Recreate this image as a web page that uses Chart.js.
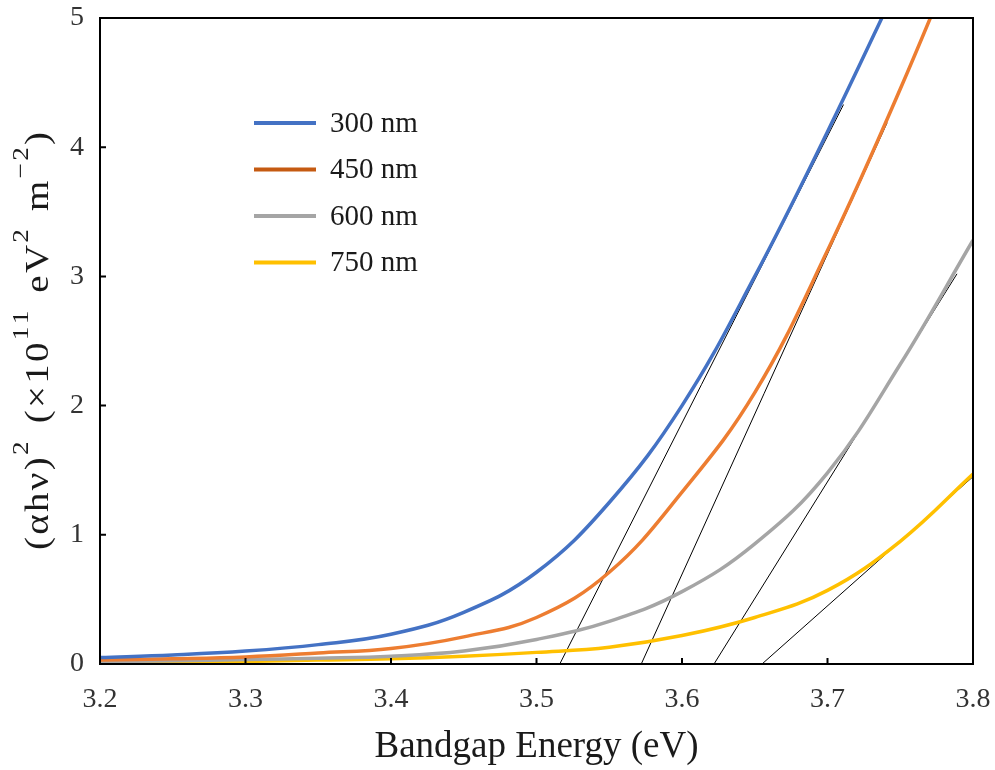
<!DOCTYPE html>
<html>
<head>
<meta charset="utf-8">
<script src="https://cdn.jsdelivr.net/npm/chart.js@4.4.1/dist/chart.umd.min.js"></script>
<style>
  html, body { margin: 0; padding: 0; background: #fff; }
  #wrap { width: 995px; height: 770px; }
</style>
</head>
<body>
<div id="wrap"><canvas id="taucChart" width="995" height="770"></canvas></div>
<script>
'use strict';

// photon energy grid (eV)
var energy = [3.20, 3.25, 3.30, 3.35, 3.40, 3.45, 3.50, 3.55, 3.60, 3.65, 3.70, 3.75, 3.80];

// (alpha h nu)^2 in units of 1e11 eV^2 m^-2
var abs300 = [0.05, 0.07, 0.10, 0.15, 0.23, 0.40, 0.71, 1.25, 2.00, 3.00, 4.12, 5.30, null];
var abs450 = [0.03, 0.04, 0.055, 0.085, 0.12, 0.21, 0.36, 0.71, 1.33, 2.10, 3.20, 4.45, 5.80];
var abs600 = [0.02, 0.025, 0.035, 0.045, 0.06, 0.10, 0.19, 0.33, 0.56, 0.93, 1.48, 2.32, 3.28];
var abs750 = [0.01, 0.015, 0.02, 0.03, 0.04, 0.06, 0.09, 0.13, 0.22, 0.36, 0.57, 0.95, 1.47];

var seriesLabels = ['300 nm', '450 nm', '600 nm', '750 nm'];
var seriesColors = ['#4472C4', '#ED7D31', '#A5A5A5', '#FFC000'];

// linear fits (Tauc extrapolation): [x0, y0, x1, y1]
var fit300 = [3.516, 0, 3.711, 4.33];
var fit450 = [3.572, 0, 3.741, 4.19];
var fit600 = [3.622, 0, 3.789, 3.02];
var fit750 = [3.655, 0, 3.800, 1.45];

var xTicks = [3.2, 3.3, 3.4, 3.5, 3.6, 3.7, 3.8];
var yTicks = [0, 1, 2, 3, 4, 5];

// y title pieces: [text, superscript?]
var yTitleParts = [['(αhν)', false], ['2', true], [' (×10', false], ['11', true],
                   [' eV', false], ['2', true], [' m', false], ['−2', true], [')', false]];

function toPoints(ys) {
    return energy.map(function (e, i) { return { x: e, y: ys[i] }; });
}

var curveSets = [abs300, abs450, abs600, abs750].map(function (ys, i) {
    return {
        label: seriesLabels[i],
        data: toPoints(ys),
        borderColor: seriesColors[i],
        backgroundColor: seriesColors[i],
        borderWidth: 3.5,
        pointRadius: 0,
        tension: 0.4,
        spanGaps: false
    };
});

var fitSets = [fit300, fit450, fit600, fit750].map(function (f) {
    return {
        label: '',
        data: [{ x: f[0], y: f[1] }, { x: f[2], y: f[3] }],
        borderColor: '#000',
        borderWidth: 1,
        pointRadius: 0,
        tension: 0
    };
});

var SERIF = '"Liberation Serif", "Times New Roman", serif';
var baseFont = '33px ' + SERIF;
var supFont = '23px ' + SERIF;

// legend inside the plot, inward ticks, box frame and y title
var framePlugin = {
    id: 'frame',
    afterDraw: function (chart) {
        var ctx = chart.ctx, a = chart.chartArea;
        var xs = chart.scales.x, ys = chart.scales.y;
        ctx.save();
        ctx.strokeStyle = '#000';
        ctx.lineWidth = 2;
        ctx.strokeRect(a.left, a.top, a.right - a.left, a.bottom - a.top);
        ctx.beginPath();
        xTicks.forEach(function (t) {
            var px = xs.getPixelForValue(t);
            ctx.moveTo(px, a.bottom);
            ctx.lineTo(px, a.bottom - 6);
        });
        yTicks.forEach(function (t) {
            var py = ys.getPixelForValue(t);
            ctx.moveTo(a.left, py);
            ctx.lineTo(a.left + 6, py);
        });
        ctx.stroke();

        // legend
        ctx.font = '29px ' + SERIF;
        ctx.textBaseline = 'middle';
        seriesLabels.forEach(function (lab, i) {
            var y = 123 + i * 46.5;
            ctx.strokeStyle = i === 1 ? '#C55A11' : seriesColors[i];
            ctx.lineWidth = 4;
            ctx.beginPath();
            ctx.moveTo(254, y);
            ctx.lineTo(316, y);
            ctx.stroke();
            ctx.fillStyle = '#1a1a1a';
            ctx.fillText(lab, 330, y + 1);
        });

        // y axis title with real superscripts: small letter gap, then stretch to length
        var chars = [];
        var natural = 0;
        var gap = 2;
        yTitleParts.forEach(function (p) {
            ctx.font = p[1] ? supFont : baseFont;
            Array.from(p[0]).forEach(function (c) {
                var w = ctx.measureText(c).width + (c === ' ' ? 3 : 0);
                chars.push({ c: c, sup: p[1], w: w });
                natural += w + gap;
            });
        });
        natural -= gap;
        var targetLen = 418;
        ctx.translate(0, 341);
        ctx.rotate(-Math.PI / 2);
        ctx.scale(targetLen / natural, 1);
        ctx.fillStyle = '#1a1a1a';
        ctx.textBaseline = 'alphabetic';
        var cx = -natural / 2;
        chars.forEach(function (ch) {
            ctx.font = ch.sup ? supFont : baseFont;
            ctx.fillText(ch.c, cx, ch.sup ? 28 : 48);
            cx += ch.w + gap;
        });
        ctx.restore();
    }
};

var TAUC = document.getElementById('taucChart');
var taucChart = new Chart(TAUC, {
    type: 'line',
    data: { datasets: curveSets.concat(fitSets) },
    plugins: [framePlugin],
    options: {
        responsive: false,
        animation: false,
        layout: { padding: { top: 18, right: 22, left: 0, bottom: 0 } },
        plugins: {
            legend: { display: false },
            tooltip: { enabled: false }
        },
        scales: {
            x: {
                type: 'linear',
                min: 3.2,
                max: 3.8,
                afterFit: function (s) {
                    s.height = 106;
                    s.paddingLeft = 0;
                    s.paddingRight = 0;
                },
                afterBuildTicks: function (s) {
                    s.ticks = xTicks.map(function (v) { return { value: v }; });
                },
                grid: { display: false, drawTicks: false },
                border: { display: false },
                ticks: {
                    padding: 19,
                    color: '#333',
                    maxRotation: 0,
                    font: { family: SERIF, size: 28 },
                    callback: function (v) { return v.toFixed(1); }
                },
                title: {
                    display: true,
                    text: 'Bandgap Energy (eV)',
                    color: '#1a1a1a',
                    padding: { top: 4, bottom: 1 },
                    font: { family: SERIF, size: 37 }
                }
            },
            y: {
                type: 'linear',
                min: 0,
                max: 5,
                afterFit: function (s) {
                    s.width = 100;
                    s.paddingTop = 0;
                    s.paddingBottom = 0;
                },
                afterBuildTicks: function (s) {
                    s.ticks = yTicks.map(function (v) { return { value: v }; });
                },
                grid: { display: false, drawTicks: false },
                border: { display: false },
                ticks: {
                    padding: 16,
                    color: '#333',
                    font: { family: SERIF, size: 28 }
                },
                title: { display: false }
            }
        }
    }
});
</script>
</body>
</html>
